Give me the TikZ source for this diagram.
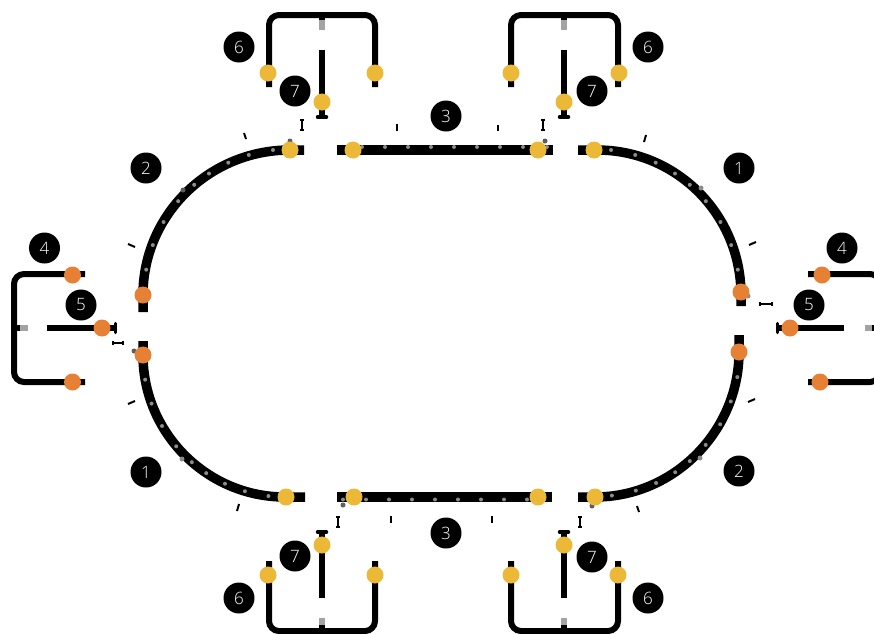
\documentclass[tikz,border=0pt]{standalone}
\usepackage{fontspec}
\setmainfont{Open Sans Light}
\definecolor{gold}{HTML}{EBB937}
\definecolor{orng}{HTML}{E68034}
\definecolor{dotg}{HTML}{8C8C8C}
\definecolor{dotd}{HTML}{5E5E5E}
\tikzset{
  rail/.style={draw=black,line width=9.5pt,line cap=butt},
  feeder/.style={draw=black,line width=6pt,line cap=butt},
  stemg/.style={draw=dotg!80,line width=5.5pt},
  badge/.style={circle,fill=black,text=white,minimum size=31pt,inner sep=0pt,font=\fontsize{17}{17}\selectfont},
  golddot/.style={circle,fill=gold,minimum size=17pt,inner sep=0pt},
  orngdot/.style={circle,fill=orng,minimum size=17pt,inner sep=0pt},
  tbar/.style={draw=black,line width=3.5pt,line cap=round},
  tinyI/.style={draw=black,line width=2pt},
  tinycap/.style={draw=black,line width=1.2pt},
  tick/.style={draw=black,line width=2pt},
}
\newcommand{\arcdots}[5]{% cx cy r sx sy
  \foreach \a in {6.7,16.4,25,33.7,41,50,60,70,80}
    \fill[dotg] ({#1+(#4)*#3*sin(\a)},{#2+(#5)*#3*cos(\a)}) circle [radius=2pt];}
\newcommand{\tinyv}[3]{% x y1 y2
  \draw[tinyI] (#1,#2) -- (#1,#3);
  \draw[tinycap] ({#1-1.8},#2) -- ({#1+1.8},#2);
  \draw[tinycap] ({#1-1.8},#3) -- ({#1+1.8},#3);}
\newcommand{\tinyh}[3]{% y x1 x2
  \draw[tinyI] (#2,#1) -- (#3,#1);
  \draw[tinycap] (#2,{#1-1.8}) -- (#2,{#1+1.8});
  \draw[tinycap] (#3,{#1-1.8}) -- (#3,{#1+1.8});}
\begin{document}
\begin{tikzpicture}[x=1pt,y=-1pt]
\useasboundingbox (0,0) rectangle (874,633);
\clip (0,0) rectangle (874,633);
% main ring
\draw[rail] (143,312) -- (143,295) .. controls (143,215) and (209,150) .. (290,150) -- (304,150);
\draw[rail] (337,150) -- (553,150);
\draw[rail] (578,150) -- (597,150) .. controls (677,150) and (741,215) .. (741,295) -- (741,306);
\draw[rail] (739,335) -- (739,352) .. controls (739,431) and (674,497) .. (595,497) -- (578,497);
\draw[rail] (337,497) -- (552,497);
\draw[rail] (305,497) -- (285,497) .. controls (207,497) and (143,433) .. (143,355) -- (143,341);
% dots on arcs
\arcdots{290}{295}{146}{-1}{-1}
\arcdots{594}{295}{146}{1}{-1}
\arcdots{595}{352}{144.5}{1}{1}
\arcdots{285}{355}{142}{-1}{1}
% dots on straights
\foreach \x in {362,385,408,431,454,477,500,523,547} \fill[dotg] (\x,147) circle [radius=2pt];
\foreach \x in {343,366,389,412,435,458,481,504,527} \fill[dotg] (\x,499.5) circle [radius=2pt];
% stray marks
\fill[dotd] (183,190) circle [radius=2.5pt];
\fill[dotd] (290,141) circle [radius=2.5pt];
\fill[dotd] (545,141) circle [radius=2.5pt];
\fill[dotg] (701,188) circle [radius=2.5pt];
\fill[dotg] (748,296) circle [radius=2.5pt];
\fill[dotd] (134,351) circle [radius=2.5pt];
\fill[dotg] (182,459) circle [radius=2.5pt];
\fill[dotg] (700,458) circle [radius=2.5pt];
\fill[dotd] (343,505) circle [radius=2.5pt];
\fill[dotd] (592,506) circle [radius=2.5pt];
% feeders 6
\draw[feeder,rounded corners=10pt] (269,87) -- (269,15) -- (375,15) -- (375,87);
\draw[feeder,rounded corners=10pt] (511,87) -- (511,15) -- (618,15) -- (618,87);
\draw[feeder,rounded corners=10pt] (269,561) -- (269,631) -- (375,631) -- (375,561);
\draw[feeder,rounded corners=10pt] (511,561) -- (511,631) -- (618,631) -- (618,561);
% feeders 4
\draw[feeder,rounded corners=10pt] (85,274) -- (14,274) -- (14,382) -- (85,382);
\draw[feeder,rounded corners=10pt] (808,274) -- (880,274) -- (880,382) -- (808,382);
% stems
\foreach \x in {322,564}{
  \draw[draw=black,line width=5.5pt] (\x,15) -- (\x,20);
  \draw[stemg] (\x,20) -- (\x,30);
  \draw[stemg] (\x,618) -- (\x,625);
  \draw[draw=black,line width=5.5pt] (\x,625) -- (\x,631);
  \draw[feeder] (\x,50) -- (\x,116);
  \draw[tbar] ({\x-4.5},117) -- ({\x+4.5},117);
  \draw[feeder] (\x,598) -- (\x,532);
  \draw[tbar] ({\x-4.5},532) -- ({\x+4.5},532);
}
\draw[draw=black,line width=5.5pt] (14,328) -- (20,328);
\draw[stemg] (20,328) -- (28,328);
\draw[stemg] (865,328) -- (872,328);
\draw[draw=black,line width=5.5pt] (872,328) -- (874,328);
\draw[feeder] (47,328) -- (115,328);
\draw[tbar] (115.5,323.5) -- (115.5,332.5);
\draw[feeder] (844,328) -- (778,328);
\draw[tbar] (777.5,323.5) -- (777.5,332.5);
% tiny marks
\tinyv{302}{120}{130}
\tinyv{543}{120}{130}
\tinyv{338}{517}{527}
\tinyv{580}{517}{527}
\tinyh{343}{113}{123}
\tinyh{304}{760}{772}
\draw[tick] (396.5,124) -- (396.5,131);
\draw[tick] (498,125) -- (498,131);
\draw[tick] (391,516) -- (391,523);
\draw[tick] (492,516) -- (492,523);
\draw[tick] (244,133) -- (246,139);
\draw[tick] (646,135) -- (644,142);
\draw[tick] (239,504) -- (237,511);
\draw[tick] (637,506) -- (639,512);
\draw[tick] (128,244) -- (135,247);
\draw[tick] (749,245) -- (756,242);
\draw[tick] (128,404) -- (135,401);
\draw[tick] (748,402) -- (755,399);
% gold connectors
\node[golddot] (g1) at (290,150) {};
\node[golddot] (g2) at (353,150) {};
\node[golddot] (g3) at (538,150) {};
\node[golddot] (g4) at (594,150) {};
\node[golddot] (g5) at (286,497) {};
\node[golddot] (g6) at (354,497) {};
\node[golddot] (g7) at (538,497) {};
\node[golddot] (g8) at (595,497) {};
\node[golddot] (g9) at (268,73) {};
\node[golddot] (g10) at (375,73) {};
\node[golddot] (g11) at (511,73) {};
\node[golddot] (g12) at (619,73) {};
\node[golddot] (g13) at (322,102) {};
\node[golddot] (g14) at (564,102) {};
\node[golddot] (g15) at (268,575) {};
\node[golddot] (g16) at (375,575) {};
\node[golddot] (g17) at (511,575) {};
\node[golddot] (g18) at (618,575) {};
\node[golddot] (g19) at (322,545) {};
\node[golddot] (g20) at (564,545) {};
% orange connectors
\node[orngdot] (o1) at (143,295) {};
\node[orngdot] (o2) at (143,355) {};
\node[orngdot] (o3) at (741,292) {};
\node[orngdot] (o4) at (739,352) {};
\node[orngdot] (o5) at (72.5,275) {};
\node[orngdot] (o6) at (72.5,382) {};
\node[orngdot] (o7) at (102,328) {};
\node[orngdot] (o8) at (822,275) {};
\node[orngdot] (o9) at (820,382) {};
\node[orngdot] (o10) at (790,328) {};
% badges
\node[badge] (b1a) at (739,168) {1};
\node[badge] (b1b) at (146,472) {1};
\node[badge] (b2a) at (146,168) {2};
\node[badge] (b2b) at (739,471) {2};
\node[badge] (b3a) at (446,116) {3};
\node[badge] (b3b) at (446,533) {3};
\node[badge] (b4a) at (44.5,248) {4};
\node[badge] (b4b) at (842,248) {4};
\node[badge] (b5a) at (81,305) {5};
\node[badge] (b5b) at (809,305) {5};
\node[badge] (b6a) at (239,47) {6};
\node[badge] (b6b) at (648,47) {6};
\node[badge] (b6c) at (239,598) {6};
\node[badge] (b6d) at (648,598) {6};
\node[badge] (b7a) at (295,91) {7};
\node[badge] (b7b) at (592,91) {7};
\node[badge] (b7c) at (295,556) {7};
\node[badge] (b7d) at (592,557) {7};
\end{tikzpicture}
\end{document}
